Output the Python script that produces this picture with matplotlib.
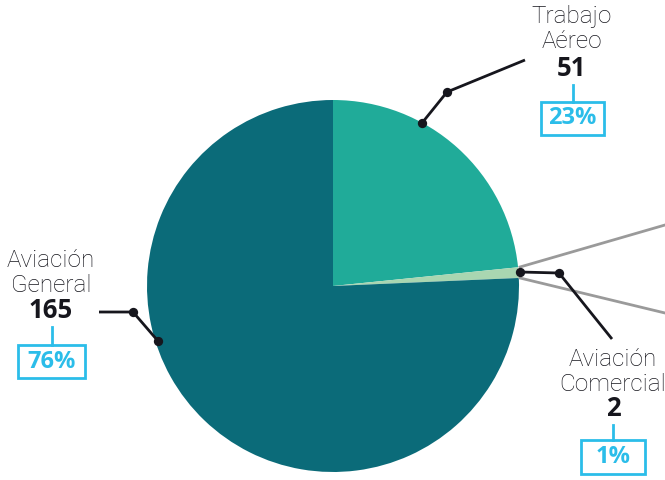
import matplotlib
matplotlib.use("Agg")
import matplotlib.pyplot as plt
from matplotlib.patches import Rectangle

categories = ["Trabajo Aéreo", "Aviación Comercial", "Aviación General"]
name_labels = ["Trabajo\nAéreo", "Aviación\nComercial", "Aviación\nGeneral"]
values = [51, 2, 165]
percents = ["23%", "1%", "76%"]
colors = ["#20ab99", "#a9d6b1", "#0b6b79"]

W, H = 665, 480
fig = plt.figure(figsize=(W / 100, H / 100), dpi=100)
ax = fig.add_axes([0, 0, 1, 1])
ax.set_xlim(0, W)
ax.set_ylim(0, H)
ax.set_aspect("equal")
ax.axis("off")

def Y(py):
    return H - py

cx, cy, r = 333, Y(286), 186
ax.pie(values, colors=colors, startangle=90, counterclock=False,
       center=(cx, cy), radius=r, frame=True,
       wedgeprops=dict(linewidth=0))
ax.set_xlim(0, W)
ax.set_ylim(0, H)
ax.axis("off")

# gray connector lines to the right
gray = "#9a9a9a"
ax.plot([520, 665], [Y(267), Y(225)], color=gray, lw=2, zorder=3)
ax.plot([520, 665], [Y(278), Y(313)], color=gray, lw=2, zorder=3)

dark = "#16161d"
blue = "#2bbde9"
name_font = dict(family="Roboto", fontsize=17.5, color=dark, ha="center",
                 va="center", linespacing=1.1, fontweight="light")
num_font = dict(family="Open Sans", fontsize=18.5, color=dark, ha="center",
                va="center", fontweight="bold")
pct_font = dict(family="Open Sans", fontsize=17, color=blue, ha="center",
                va="center", fontweight="bold")

# leaders: (dot1, dot2, end)
leaders = [
    [(422, 123), (447, 92), (525, 60)],
    [(520, 272), (559, 273), (612, 339)],
    [(158, 341), (133, 312), (99, 312)],
]
for pts in leaders:
    xs = [p[0] for p in pts]
    ys = [Y(p[1]) for p in pts]
    ax.plot(xs, ys, color=dark, lw=2, zorder=4, solid_capstyle="butt")
    ax.scatter(xs[:2], ys[:2], s=45, color=dark, zorder=5, linewidths=0)

# label blocks: name center y, number y, line top/bottom, box
blocks = [
    dict(x=572, name_y=29, num_y=69, line=(85, 102), box=(541, 102, 63, 33)),
    dict(x=613, name_y=372, num_y=409, line=(425, 440), box=(581, 440, 64, 34)),
    dict(x=51, name_y=273, num_y=311, line=(327, 345), box=(18, 345, 67, 33)),
]
for i, b in enumerate(blocks):
    ax.text(b["x"], Y(b["name_y"]), name_labels[i], **name_font)
    ax.text(b["x"], Y(b["num_y"]), str(values[i]), **num_font)
    bx = b["box"][0] + b["box"][2] / 2
    ax.plot([bx, bx], [Y(b["line"][0]), Y(b["line"][1])], color=blue, lw=2)
    ax.add_patch(Rectangle((b["box"][0], Y(b["box"][1] + b["box"][3])),
                           b["box"][2], b["box"][3], fill=False,
                           edgecolor=blue, lw=2))
    ax.text(bx, Y(b["box"][1] + b["box"][3] / 2), percents[i], **pct_font)

fig.savefig("out.png", dpi=100)
